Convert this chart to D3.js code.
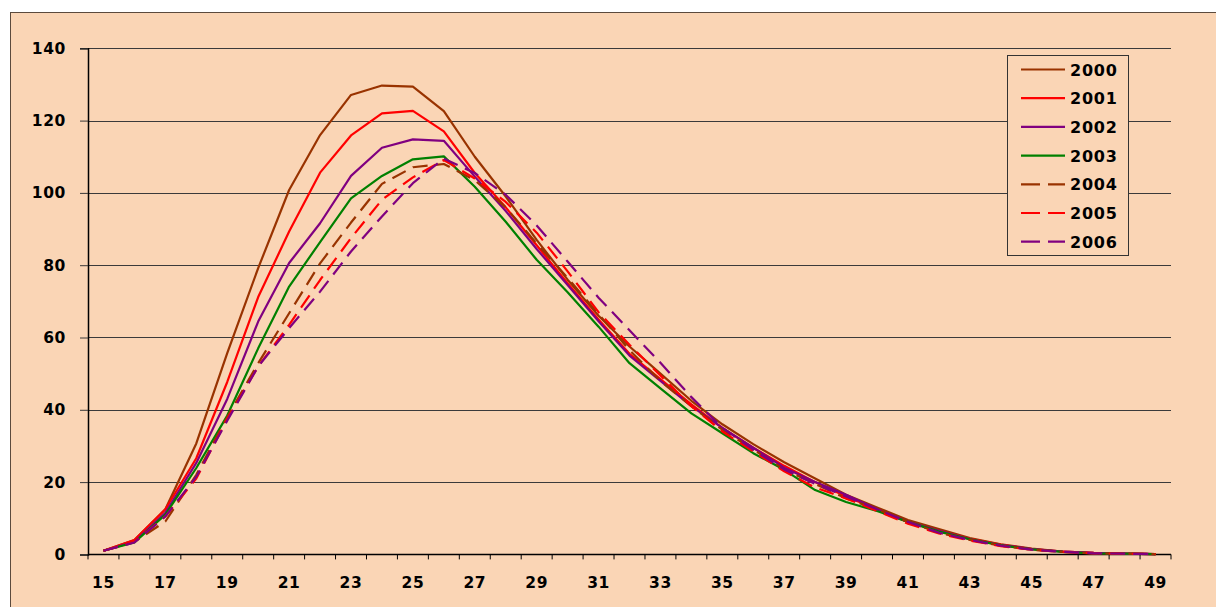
<!DOCTYPE html>
<html>
<head>
<meta charset="utf-8">
<script src="https://cdn.jsdelivr.net/npm/d3@7"></script>
<style>
  html, body { margin: 0; padding: 0; background: #ffffff; }
  svg { display: block; }
  text { font-family: "DejaVu Sans", Verdana, sans-serif; font-weight: bold; fill: #000; }
</style>
</head>
<body>
<svg id="chart" width="1216" height="607"></svg>
<script>
// ---- data ----
const ages = d3.range(15, 50); // 15..49
const yTicks = [0, 20, 40, 60, 80, 100, 120, 140];
const xTickLabels = [15, 17, 19, 21, 23, 25, 27, 29, 31, 33, 35, 37, 39, 41, 43, 45, 47, 49];
const seriesNames = ["2000", "2001", "2002", "2003", "2004", "2005", "2006"];

const v2000 = [1.0, 4.0, 12.5, 30.7, 55.7, 79.2, 100.8, 116.0, 127.1, 129.7, 129.4, 122.6, 110.0, 99.0, 87.0, 76.0, 66.0, 57.5, 50.0, 42.5, 36.0, 30.5, 25.5, 21.0, 16.5, 13.0, 9.5, 7.0, 4.5, 2.8, 1.6, 0.8, 0.4, 0.2, 0.1];
const v2001 = [1.0, 4.0, 12.5, 26.6, 47.7, 71.2, 89.3, 105.6, 115.9, 122.0, 122.7, 117.0, 105.5, 96.0, 85.5, 75.0, 65.0, 55.5, 48.5, 41.5, 35.0, 29.5, 24.5, 20.0, 16.0, 12.5, 9.0, 6.5, 4.3, 2.7, 1.5, 0.8, 0.4, 0.2, 0.1];
const v2002 = [1.0, 3.5, 11.5, 25.3, 43.0, 64.4, 80.6, 91.6, 104.7, 112.5, 114.8, 114.4, 104.5, 95.0, 84.5, 74.5, 64.5, 55.0, 48.0, 41.0, 35.0, 29.5, 24.0, 20.0, 16.5, 12.5, 9.0, 6.5, 4.2, 2.6, 1.5, 0.8, 0.4, 0.2, 0.1];
const v2003 = [1.0, 3.3, 11.0, 23.9, 38.4, 57.0, 74.1, 86.4, 98.5, 104.7, 109.3, 110.1, 101.7, 92.0, 81.5, 72.5, 63.0, 52.9, 45.9, 39.0, 33.5, 28.0, 23.4, 17.8, 14.5, 12.0, 9.0, 6.3, 4.2, 2.5, 1.4, 0.7, 0.3, 0.2, 0.1];
const v2004 = [1.0, 3.5, 9.1, 22.0, 38.0, 52.9, 66.7, 80.5, 91.8, 102.5, 107.1, 108.0, 103.5, 96.0, 86.0, 76.5, 66.5, 56.5, 48.0, 41.0, 34.5, 29.0, 23.5, 19.5, 15.5, 12.5, 9.0, 6.0, 4.0, 2.4, 1.3, 0.7, 0.3, 0.2, 0.1];
const v2005 = [1.0, 3.5, 10.5, 21.0, 37.5, 52.0, 63.5, 75.9, 87.5, 98.1, 104.3, 109.1, 104.0, 97.5, 89.0, 78.3, 67.0, 58.0, 49.5, 41.0, 34.0, 28.5, 23.0, 18.5, 15.5, 12.0, 8.5, 5.8, 3.8, 2.3, 1.3, 0.7, 0.3, 0.2, 0.1];
const v2006 = [1.0, 3.3, 10.5, 21.5, 37.0, 52.0, 62.6, 72.7, 83.8, 93.5, 102.7, 109.5, 105.5, 99.5, 91.0, 81.0, 71.0, 62.0, 53.0, 43.5, 35.0, 29.0, 23.5, 19.5, 16.0, 12.5, 9.0, 6.0, 4.0, 2.4, 1.3, 0.7, 0.3, 0.2, 0.1];

const seriesValues = [v2000, v2001, v2002, v2003, v2004, v2005, v2006];
const seriesColors = ["#993300", "#FF0000", "#800080", "#008000", "#993300", "#FF0000", "#800080"];
const seriesDashed = [false, false, false, false, true, true, true];

// ---- layout ----
const svg = d3.select("#chart");
const W = 1216, H = 607;
const bg = "#FAD5B5";
const plotL = 88, plotR = 1171, plotT = 48.3, plotB = 554.4;

// chart area background + border (left/top edges visible)
svg.append("rect").attr("x", 10.5).attr("y", 12.5).attr("width", W).attr("height", H)
  .attr("fill", bg).attr("stroke", "#5b4a3d").attr("stroke-width", 1);

const x = d3.scaleBand().domain(ages).range([plotL, plotR]).paddingInner(0).paddingOuter(0);
const y = d3.scaleLinear().domain([0, 140]).range([plotB, plotT]);

// gridlines
svg.append("g").selectAll("line").data(yTicks.filter(d => d > 0)).join("line")
  .attr("x1", plotL).attr("x2", plotR)
  .attr("y1", d => Math.round(y(d)) + 0.5).attr("y2", d => Math.round(y(d)) + 0.5)
  .attr("stroke", "#3a3a3a").attr("stroke-width", 1);

// y axis
const yAxis = d3.axisLeft(y).tickValues(yTicks).tickSize(8).tickPadding(14).tickFormat(d3.format("d"));
const gy = svg.append("g").attr("transform", `translate(${plotL},0)`).call(yAxis);
gy.select(".domain").attr("stroke", "#000").attr("stroke-width", 1.5);
gy.selectAll(".tick line").attr("stroke", "#3a3a3a");
gy.selectAll(".tick text").style("font-size", "15.5px").style("letter-spacing", "0.6px")
  .attr("font-family", "DejaVu Sans").attr("font-weight", "bold");

// x axis: ticks between categories, labels every other category
const xAxisG = svg.append("g").attr("transform", `translate(0,${plotB})`);
xAxisG.append("line").attr("x1", plotL).attr("x2", plotR).attr("y1", 0).attr("y2", 0)
  .attr("stroke", "#000").attr("stroke-width", 1.5);
const boundaries = ages.map(a => x(a)).concat([x(ages[ages.length - 1]) + x.bandwidth()]);
xAxisG.selectAll("line.tk").data(boundaries).join("line").attr("class", "tk")
  .attr("x1", d => d).attr("x2", d => d).attr("y1", 0).attr("y2", 5)
  .attr("stroke", "#000").attr("stroke-width", 1);
xAxisG.selectAll("text").data(xTickLabels).join("text")
  .attr("x", d => x(d) + x.bandwidth() / 2).attr("y", 34)
  .attr("text-anchor", "middle").style("font-size", "15.5px").style("letter-spacing", "0.6px")
  .text(d => d);

// lines
const line = d3.line().x((d, i) => x(ages[i]) + x.bandwidth() / 2).y(d => y(d));
seriesValues.forEach((vals, si) => {
  svg.append("path").datum(vals)
    .attr("fill", "none")
    .attr("stroke", seriesColors[si])
    .attr("stroke-width", 2.2)
    .attr("stroke-linejoin", "round")
    .attr("stroke-dasharray", seriesDashed[si] ? "15,8" : null)
    .attr("d", line);
});

// legend
const lg = svg.append("g");
lg.append("rect").attr("x", 1007.5).attr("y", 55.5).attr("width", 121).attr("height", 200)
  .attr("fill", bg).attr("stroke", "#333").attr("stroke-width", 1);
seriesNames.forEach((name, i) => {
  const cy = 69.5 + i * 28.7;
  lg.append("line").attr("x1", 1021).attr("x2", 1065).attr("y1", cy).attr("y2", cy)
    .attr("stroke", seriesColors[i]).attr("stroke-width", 2.2)
    .attr("stroke-dasharray", seriesDashed[i] ? "19,8" : null);
  lg.append("text").attr("x", 1070).attr("y", cy + 6)
    .style("font-size", "16px").style("letter-spacing", "0.8px").text(name);
});
</script>
</body>
</html>
